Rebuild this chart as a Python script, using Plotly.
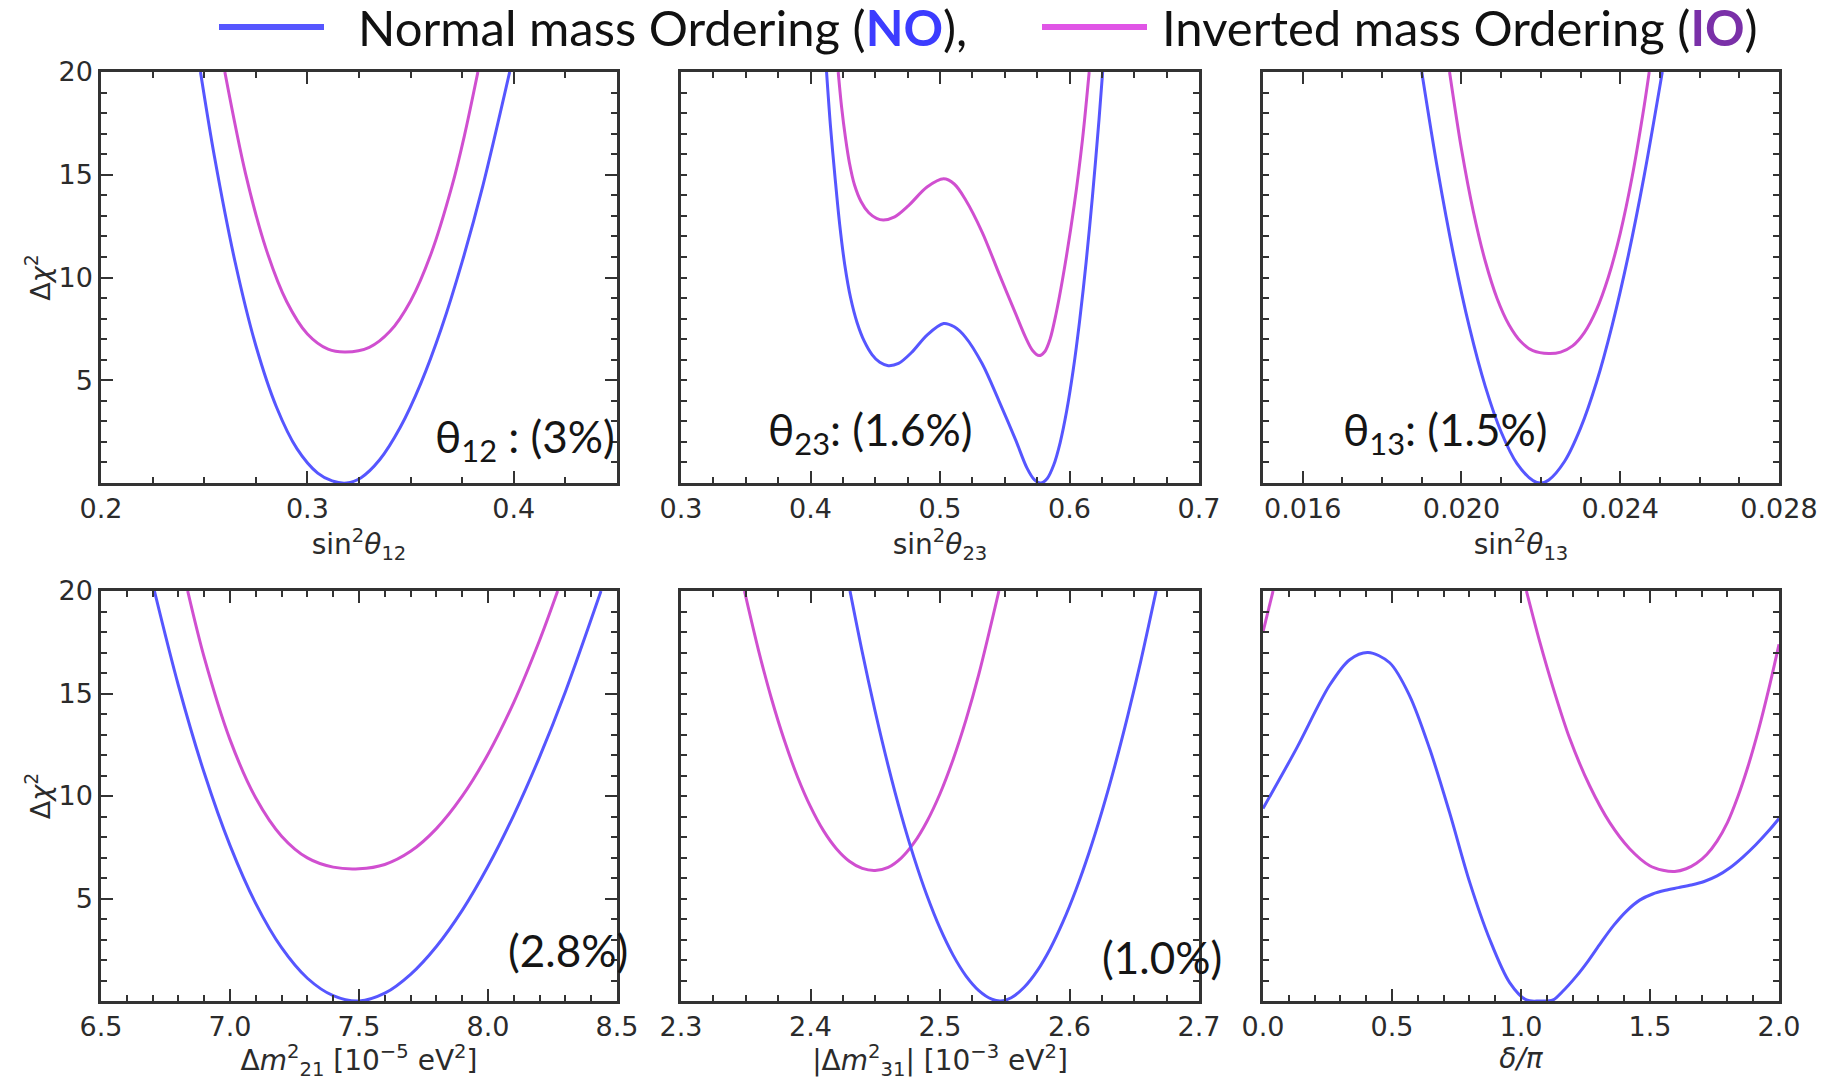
import plotly.graph_objects as go

W, H = 1825, 1081

# ---------------- data ----------------
# Panel 1: sin^2 theta12
s12_no_x = [0.2482, 0.255, 0.265, 0.275, 0.285, 0.295, 0.305, 0.312, 0.319, 0.326, 0.335, 0.345, 0.355, 0.365, 0.375, 0.385, 0.398]
s12_no_y = [20, 15.86, 10.74, 6.69, 3.70, 1.66, 0.48, 0.10, 0, 0.26, 1.13, 2.71, 4.86, 7.55, 10.77, 14.46, 20]
s12_io_x = [0.260, 0.270, 0.280, 0.290, 0.300, 0.310, 0.3185, 0.330, 0.340, 0.350, 0.360, 0.370, 0.376, 0.3826]
s12_io_y = [20, 15.07, 11.38, 8.82, 7.25, 6.51, 6.37, 6.60, 7.38, 8.86, 11.18, 14.43, 16.87, 20]

# Panel 2: sin^2 theta23
s23_no_x = [0.4124, 0.4155, 0.4189, 0.4225, 0.4265, 0.4310, 0.4360, 0.4415, 0.4475, 0.4535, 0.4600, 0.4680, 0.4780, 0.4900, 0.5028,
            0.5110, 0.5196, 0.5326, 0.5455, 0.5584, 0.5670, 0.5730, 0.5778,
            0.5828, 0.5878, 0.5928, 0.5978, 0.6028, 0.6078, 0.6128, 0.6178, 0.6228, 0.6256]
s23_no_y = [20, 17.3, 14.9, 12.6, 10.6, 9.0, 7.8, 6.9, 6.25, 5.87, 5.71, 5.82, 6.35, 7.2, 7.76,
            7.6, 7.1, 5.8, 4.0, 2.1, 0.75, 0.15, 0,
            0.22, 0.875, 1.97, 3.5, 5.47, 7.88, 10.72, 14.0, 17.7, 20]
s23_io_x = [0.4214, 0.4240, 0.4270, 0.4300, 0.4340, 0.4390, 0.4450, 0.4510, 0.4563, 0.4650, 0.4757, 0.4900, 0.5028, 0.5110, 0.5196,
            0.5326, 0.5455, 0.5584, 0.5660, 0.5715, 0.5765, 0.5810, 0.5850, 0.5895, 0.5946, 0.6036, 0.6100, 0.6152]
s23_io_y = [20, 18.3, 16.8, 15.6, 14.5, 13.7, 13.15, 12.88, 12.8, 12.95, 13.5, 14.4, 14.8, 14.55, 13.8,
            12.2, 10.2, 8.24, 7.1, 6.45, 6.2, 6.4, 7.0, 8.2, 9.9, 13.5, 16.7, 20]

# Panel 3: sin^2 theta13
s13_no_x = [0.0190, 0.0194, 0.0198, 0.0202, 0.0206, 0.0210, 0.0214, 0.0218, 0.0220, 0.0222, 0.0226, 0.0230, 0.0234, 0.0238, 0.0242, 0.0246, 0.02506]
s13_no_y = [20, 15.24, 11.10, 7.58, 4.70, 2.48, 0.94, 0.12, 0, 0.15, 1.06, 2.67, 4.89, 7.70, 11.04, 14.92, 20]
s13_io_x = [0.0197, 0.0200, 0.0203, 0.0206, 0.0209, 0.0212, 0.0215, 0.0218, 0.0222, 0.0225, 0.0228, 0.0231, 0.0234, 0.0237, 0.0240, 0.0243, 0.0246, 0.02473]
s13_io_y = [20, 16.25, 13.20, 10.79, 8.97, 7.69, 6.87, 6.44, 6.3, 6.37, 6.67, 7.33, 8.42, 10.01, 12.15, 14.90, 18.31, 20]

# Panel 4: Delta m^2_21 [1e-5 eV^2]
m21_no_x = [6.707, 6.8, 6.9, 7.0, 7.1, 7.2, 7.3, 7.4, 7.5, 7.6, 7.7, 7.8, 7.9, 8.0, 8.1, 8.2, 8.3, 8.438]
m21_no_y = [20, 15.39, 11.13, 7.59, 4.75, 2.60, 1.11, 0.26, 0, 0.38, 1.30, 2.66, 4.42, 6.57, 9.07, 11.91, 15.09, 20]
m21_io_x = [6.836, 6.9, 7.0, 7.1, 7.2, 7.3, 7.4, 7.5, 7.6, 7.7, 7.8, 7.9, 8.0, 8.1, 8.2, 8.27]
m21_io_y = [20, 16.76, 12.75, 9.90, 8.04, 6.98, 6.53, 6.45, 6.66, 7.30, 8.41, 9.99, 12.04, 14.57, 17.6, 20]

# Panel 5: |Delta m^2_31| [1e-3 eV^2]
m31_no_x = [2.4305, 2.44, 2.45, 2.46, 2.47, 2.48, 2.49, 2.50, 2.51, 2.52, 2.53, 2.54, 2.5468,
            2.555, 2.565, 2.575, 2.585, 2.595, 2.605, 2.615, 2.625, 2.635, 2.645, 2.655, 2.6669]
m31_no_y = [20, 17.01, 14.11, 11.47, 9.09, 6.98, 5.13, 3.55, 2.25, 1.23, 0.51, 0.09, 0,
            0.16, 0.67, 1.47, 2.54, 3.87, 5.43, 7.22, 9.24, 11.47, 13.92, 16.57, 20]
m31_io_x = [2.349, 2.36, 2.37, 2.38, 2.39, 2.40, 2.41, 2.42, 2.43, 2.44, 2.4499, 2.46, 2.47, 2.48, 2.49, 2.50, 2.51, 2.52, 2.53, 2.5455]
m31_io_y = [20, 17.07, 14.72, 12.68, 10.93, 9.48, 8.31, 7.43, 6.82, 6.47, 6.37, 6.52, 6.97, 7.72, 8.77, 10.11, 11.76, 13.70, 15.94, 20]

# Panel 6: delta / pi
dcp_no_x = [0.0, 0.129, 0.258, 0.336, 0.407, 0.491, 0.568, 0.646, 0.723, 0.801, 0.879, 0.956, 1.021, 1.072, 1.124, 1.16, 1.214, 1.26,
            1.31, 1.36, 1.41, 1.46, 1.51, 1.56, 1.61, 1.66, 1.71, 1.76, 1.81, 1.86, 1.91, 1.96, 2.0]
dcp_no_y = [9.39, 12.3, 15.4, 16.65, 17.0, 16.5, 14.9, 12.3, 9.2, 5.8, 3.0, 0.9, 0.05, 0, 0.05, 0.45, 1.2, 1.95,
            2.85, 3.7, 4.4, 4.92, 5.22, 5.4, 5.53, 5.66, 5.83, 6.1, 6.5, 7.02, 7.62, 8.3, 8.9]
dcp_io_x = [0.0, 0.039, None, 1.021, 1.072, 1.124, 1.189, 1.266, 1.344, 1.421, 1.499, 1.55, 1.596, 1.64, 1.68, 1.72, 1.76, 1.80, 1.84, 1.88, 1.92, 1.96, 2.0]
dcp_io_y = [18.0, 20, None, 20, 17.55, 15.3, 12.8, 10.5, 8.7, 7.43, 6.6, 6.38, 6.32, 6.45, 6.72, 7.15, 7.8, 8.7, 9.95, 11.45, 13.2, 15.2, 17.4]

# axis settings
x_ranges = [[0.2, 0.45], [0.3, 0.7], [0.015, 0.028], [6.5, 8.5], [2.3, 2.7], [0.0, 2.0]]
x_tickvals = [[0.2, 0.3, 0.4], [0.3, 0.4, 0.5, 0.6, 0.7], [0.016, 0.020, 0.024, 0.028],
              [6.5, 7.0, 7.5, 8.0, 8.5], [2.3, 2.4, 2.5, 2.6, 2.7], [0.0, 0.5, 1.0, 1.5, 2.0]]
x_ticktext = [["0.2", "0.3", "0.4"], ["0.3", "0.4", "0.5", "0.6", "0.7"], ["0.016", "0.020", "0.024", "0.028"],
              ["6.5", "7.0", "7.5", "8.0", "8.5"], ["2.3", "2.4", "2.5", "2.6", "2.7"], ["0.0", "0.5", "1.0", "1.5", "2.0"]]
x_minor = [0.025, 0.025, 0.001, 0.1, 0.025, 0.1]
x_titles = ["sin<sup>2</sup><i>θ</i><sub>12</sub>", "sin<sup>2</sup><i>θ</i><sub>23</sub>", "sin<sup>2</sup><i>θ</i><sub>13</sub>",
            "Δ<i>m</i><sup>2</sup><sub>21</sub> [10<sup>−5</sup> eV<sup>2</sup>]",
            "|Δ<i>m</i><sup>2</sup><sub>31</sub>| [10<sup>−3</sup> eV<sup>2</sup>]", "<i>δ/π</i>"]
y_tickvals = [5, 10, 15, 20]
y_ticktext = ["5", "10", "15", "20"]

panel_labels = ["θ<sub>12</sub> : (3%)", "θ<sub>23</sub>: (1.6%)", "θ<sub>13</sub>: (1.5%)", "(2.8%)", "(1.0%)", ""]

series = [
    (s12_no_x, s12_no_y, s12_io_x, s12_io_y),
    (s23_no_x, s23_no_y, s23_io_x, s23_io_y),
    (s13_no_x, s13_no_y, s13_io_x, s13_io_y),
    (m21_no_x, m21_no_y, m21_io_x, m21_io_y),
    (m31_no_x, m31_no_y, m31_io_x, m31_io_y),
    (dcp_no_x, dcp_no_y, dcp_io_x, dcp_io_y),
]

NO_COLOR = "#5656ff"
IO_COLOR = "#d04fd0"
AX_COLOR = "#333333"
TXT_COLOR = "#2b2b2b"
NARROW = "Liberation Sans Narrow, Lato, sans-serif"

cols_px = [(101, 617), (681, 1199), (1263, 1779)]
rows_px = [(72, 483), (591, 1001)]

fig = go.Figure()
layout = dict(width=W, height=H, margin=dict(l=0, r=0, t=0, b=0), showlegend=False,
              plot_bgcolor="white", paper_bgcolor="white",
              font=dict(family="DejaVu Sans", color=TXT_COLOR))

annotations = []
for i, (nx, ny, ix, iy) in enumerate(series):
    r, c = divmod(i, 3)
    sfx = "" if i == 0 else str(i + 1)
    fig.add_trace(go.Scatter(x=ix, y=iy, xaxis="x" + sfx, yaxis="y" + sfx, mode="lines",
                             line=dict(color=IO_COLOR, width=3, shape="spline", smoothing=0.9),
                             connectgaps=False, hoverinfo="skip"))
    fig.add_trace(go.Scatter(x=nx, y=ny, xaxis="x" + sfx, yaxis="y" + sfx, mode="lines",
                             line=dict(color=NO_COLOR, width=3, shape="spline", smoothing=0.9),
                             hoverinfo="skip"))
    x0, x1 = cols_px[c]
    y0, y1 = rows_px[r]
    layout["xaxis" + sfx] = dict(
        domain=[x0 / W, x1 / W], range=x_ranges[i], anchor="y" + sfx,
        tickmode="array", tickvals=x_tickvals[i], ticktext=x_ticktext[i],
        ticks="inside", ticklen=12, tickwidth=2, tickcolor=AX_COLOR,
        minor=dict(dtick=x_minor[i], tick0=x_ranges[i][0], ticks="inside", ticklen=6, tickwidth=2, tickcolor=AX_COLOR),
        showline=True, linecolor=AX_COLOR, linewidth=2.5, mirror="ticks",
        showgrid=False, zeroline=False, automargin=False,
        tickfont=dict(size=27, color=TXT_COLOR, family="DejaVu Sans"),
        title=dict(text=x_titles[i], font=dict(size=28, color=TXT_COLOR, family="DejaVu Sans"), standoff=1),
    )
    layout["yaxis" + sfx] = dict(
        domain=[1 - y1 / H, 1 - y0 / H], range=[0, 20], anchor="x" + sfx,
        tickmode="array", tickvals=y_tickvals, ticktext=y_ticktext if c == 0 else [""] * 4,
        showticklabels=(c == 0),
        ticks="inside", ticklen=12, tickwidth=2, tickcolor=AX_COLOR,
        minor=dict(dtick=1, tick0=0, ticks="inside", ticklen=6, tickwidth=2, tickcolor=AX_COLOR),
        showline=True, linecolor=AX_COLOR, linewidth=2.5, mirror="ticks",
        showgrid=False, zeroline=False, automargin=False,
        tickfont=dict(size=27, color=TXT_COLOR, family="DejaVu Sans"),
        title=dict(text="Δ<i>χ</i><sup>2</sup>" if c == 0 else "", font=dict(size=27, color=TXT_COLOR), standoff=1),
    )

# panel percentage labels (paper coordinates, px)
label_pos = [(433, 439), (766, 432), (1341, 432), (506, 950), (1100, 957)]
for txt, (px, py) in zip(panel_labels, label_pos):
    annotations.append(dict(text=txt, x=px / W, y=1 - py / H, xref="paper", yref="paper",
                            xanchor="left", yanchor="middle", showarrow=False,
                            font=dict(family=NARROW, size=44, color="#151515")))

# top legend made of line samples and rich text
legend_items = [
    ("Normal mass Ordering (<span style='color:#3c3cff'><b>NO</b></span>),", NO_COLOR, 219, 324, 356),
    ("Inverted mass Ordering (<span style='color:#7a30a8'><b>IO</b></span>)", "#e055e6", 1042, 1147, 1160),
]
shapes = []
for txt, col, lx0, lx1, tx in legend_items:
    shapes.append(dict(type="line", xref="paper", yref="paper", x0=lx0 / W, x1=lx1 / W,
                       y0=1 - 27 / H, y1=1 - 27 / H, line=dict(color=col, width=6)))
    annotations.append(dict(text=txt, x=tx / W, y=1 - 27 / H, xref="paper", yref="paper",
                            xanchor="left", yanchor="middle", showarrow=False,
                            font=dict(family=NARROW, size=49, color="#111111")))

layout["annotations"] = annotations
layout["shapes"] = shapes
fig.update_layout(**layout)
fig.write_html("out.html")
